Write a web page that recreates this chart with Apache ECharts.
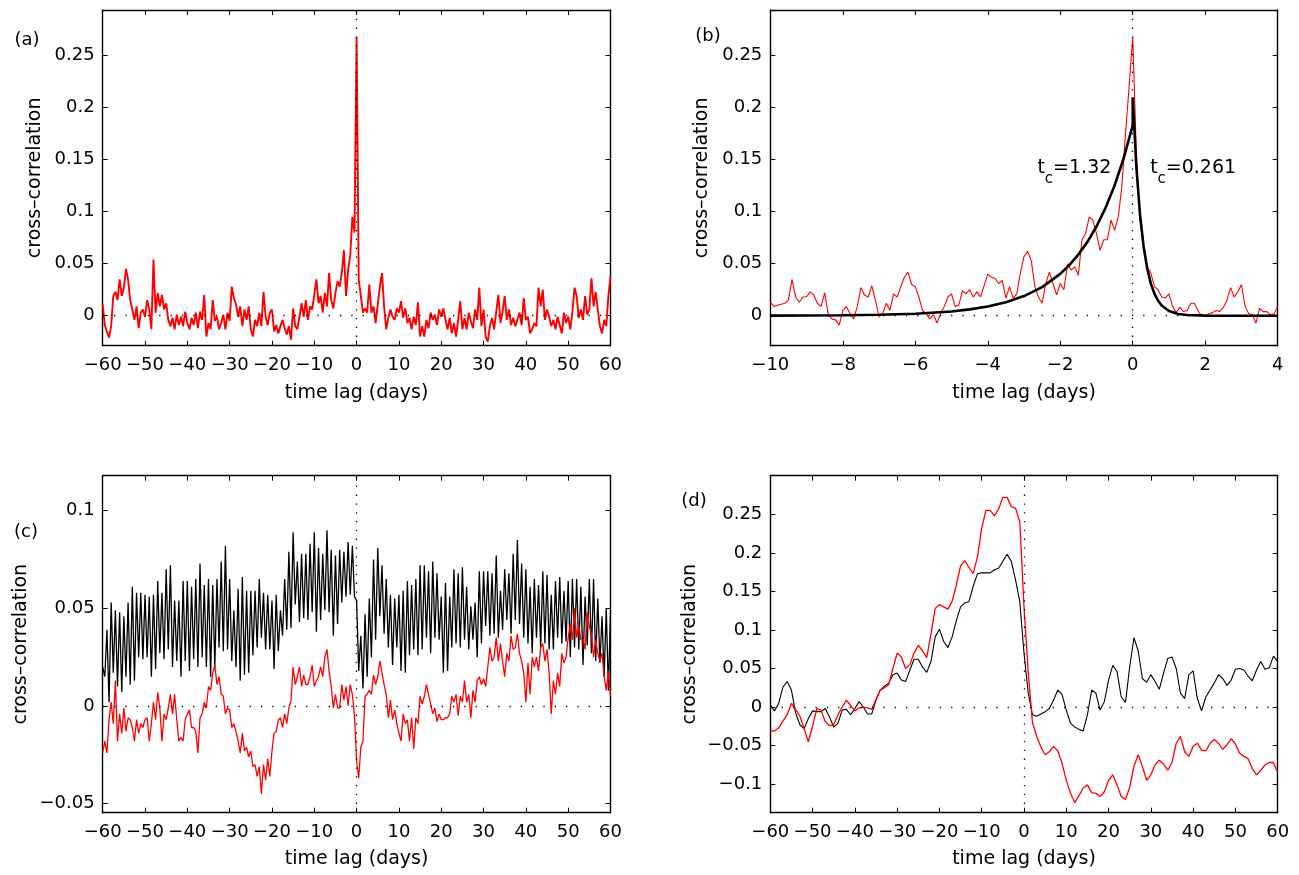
<!DOCTYPE html>
<html>
<head>
<meta charset="utf-8">
<title>cross-correlation vs time lag</title>
<script src="https://cdn.jsdelivr.net/npm/echarts@6.0.0/dist/echarts.min.js"></script>
<style>
  html, body { margin: 0; padding: 0; background: #fff; }
  #chart { width: 1299px; height: 875px; }
</style>
</head>
<body>
<div id="chart"></div>
<script>
// sample grids (days)
function lags(from, to, step) {
  const out = [];
  const n = Math.round((to - from) / step);
  for (let i = 0; i <= n; i++) out.push(Math.round((from + i * step) * 100) / 100);
  return out;
}
const lagA = lags(-60, 60, 0.5);
const lagB = lags(-10, 4, 0.1);
const lagC = lags(-60, 60, 0.5);
const lagD = lags(-60, 60, 1);

// (a) red cross-correlation, -60..60 every 0.5 day
const ccA = [
   0.011,-0.009,-0.015,-0.021,-0.010, 0.019, 0.023, 0.015, 0.035, 0.019,
   0.027, 0.045, 0.035, 0.015, 0.006,-0.004, 0.009,-0.012, 0.003, 0.006,
  -0.001, 0.015, 0.006,-0.013, 0.054, 0.003, 0.022, 0.009, 0.020, 0.006,
   0.012,-0.004,-0.010,-0.002,-0.013, 0.001,-0.009,-0.001,-0.010, 0.004,
  -0.007,-0.013,-0.002,-0.009, 0.003,-0.012, 0.004,-0.004, 0.020,-0.020,
  -0.007,-0.013, 0.015,-0.005,-0.001,-0.013,-0.007, 0.001,-0.013, 0.003,
  -0.005, 0.028, 0.017, 0.011,-0.001, 0.009,-0.010, 0.006,-0.004, 0.009,
  -0.013,-0.020,-0.004,-0.010, 0.003,-0.010, 0.023,-0.001,-0.009, 0.003,
   0.006,-0.015,-0.009,-0.017,-0.010,-0.004,-0.012,-0.018,-0.010,-0.023,
   0.007,-0.010,-0.013,-0.001, 0.012,-0.001, 0.015,-0.004, 0.009, 0.006,
   0.020, 0.035, 0.012, 0.019, 0.003, 0.022, 0.009, 0.041, 0.015, 0.007,
   0.022, 0.033, 0.028, 0.041, 0.063, 0.019, 0.044, 0.058, 0.095, 0.080,
   0.268, 0.035, 0.019, 0.003, 0.007, 0.003, 0.030, 0.003, 0.009,-0.007,
   0.011, 0.028, 0.041, 0.009,-0.013,-0.002, 0.006,-0.001,-0.004, 0.007,
   0.003, 0.014,-0.002, 0.007,-0.007,-0.002,-0.013,-0.001,-0.009, 0.013,
  -0.020,-0.010,-0.020,-0.004,-0.012, 0.003,-0.004, 0.001,-0.009, 0.006,
  -0.001, 0.007,-0.004,-0.013,-0.002,-0.017,-0.007,-0.020,-0.004, 0.014,
  -0.013,-0.002,-0.013, 0.003,-0.005,-0.012, 0.006,-0.004, 0.027,-0.010,
   0.006,-0.020,-0.025,-0.010,-0.002,-0.013, 0.004, 0.020,-0.007, 0.004,
   0.019,-0.004, 0.006,-0.009,-0.002,-0.010,-0.004, 0.003,-0.009, 0.017,
  -0.004,-0.001,-0.017,-0.013,-0.007,-0.010, 0.027, 0.009, 0.025,-0.004,
   0.006,-0.001,-0.010,-0.004,-0.013,-0.001,-0.009,-0.017, 0.003,-0.007,
  -0.001,-0.013, 0.004, 0.027, 0.019,-0.002, 0.006,-0.004, 0.019, 0.001,
   0.006, 0.036, 0.009, 0.023, 0.006,-0.010,-0.017,-0.004,-0.010, 0.019,
   0.038
];

// (b) red cross-correlation, -10..4 every 0.1 day
const ccB = [
   0.013, 0.009, 0.010, 0.011, 0.012, 0.015, 0.035, 0.018, 0.013, 0.018,
   0.018, 0.023, 0.020, 0.012, 0.009, 0.022, 0.001,-0.003,-0.004,-0.009,
   0.005, 0.009, 0.002,-0.003, 0.009, 0.027, 0.020, 0.018, 0.029, 0.015,
  -0.001, 0.002, 0.012, 0.005, 0.021, 0.018, 0.028, 0.037, 0.042, 0.030,
   0.028, 0.018, 0.005, 0.002,-0.003, 0.001,-0.007, 0.002, 0.009, 0.018,
   0.021, 0.009, 0.010, 0.024, 0.021, 0.025, 0.018, 0.023, 0.018, 0.029,
   0.040, 0.037, 0.036, 0.031, 0.034, 0.017, 0.028, 0.017, 0.021, 0.041,
   0.057, 0.062, 0.053, 0.028, 0.018, 0.012, 0.031, 0.042, 0.031, 0.020,
   0.031, 0.025, 0.050, 0.044, 0.047, 0.039, 0.073, 0.079, 0.095, 0.092,
   0.079, 0.063, 0.073, 0.073, 0.092, 0.082, 0.095, 0.124, 0.175, 0.220,
   0.268, 0.156, 0.092, 0.066, 0.047, 0.041, 0.028, 0.025, 0.018, 0.017,
   0.021, 0.009, 0.003, 0.008, 0.004, 0.005, 0.012, 0.012, 0.005, 0.000,
   0.000, 0.002, 0.003, 0.005, 0.004, 0.008, 0.015, 0.027, 0.018, 0.023,
   0.030, 0.009, 0.002, 0.001,-0.007, 0.007, 0.004, 0.004, 0.001, 0.002,
   0.009
];

// (b) black exponential fit (t_c = 1.32 left, 0.261 right)
const fitLagB = [-10, -9, -8, -7, -6, -5, -4.5, -4, -3.5, -3,
  -2.5, -2, -1.75, -1.5, -1.25, -1, -0.75, -0.5, -0.25, 0,
  0, 0.1, 0.2, 0.3, 0.4, 0.5, 0.6, 0.7, 0.8, 1.0,
  1.25, 1.5, 2, 3, 4];
const fitB = [0.0001, 0.0002, 0.0004, 0.0009, 0.0019, 0.0041, 0.0061, 0.0088, 0.0129, 0.0189,
  0.0275, 0.0402, 0.0486, 0.0588, 0.0710, 0.0858, 0.1037, 0.1253, 0.1514, 0.183,
  0.210, 0.1432, 0.0976, 0.0666, 0.0454, 0.0309, 0.0211, 0.0144, 0.0098, 0.0046,
  0.0017, 0.0007, 0.0001, 0, 0];

// (c) black and red, -60..60 every 0.5 day
const blackC = [
   0.020, 0.015, 0.039, 0.002, 0.053, 0.017, 0.049, 0.010, 0.048, 0.007,
   0.046, 0.015, 0.053, 0.011, 0.061, 0.013, 0.058, 0.025, 0.058, 0.024,
   0.057, 0.025, 0.056, 0.015, 0.057, 0.019, 0.064, 0.027, 0.058, 0.024,
   0.070, 0.029, 0.072, 0.020, 0.054, 0.023, 0.054, 0.015, 0.064, 0.023,
   0.064, 0.018, 0.061, 0.024, 0.065, 0.020, 0.073, 0.025, 0.062, 0.020,
   0.065, 0.015, 0.062, 0.020, 0.065, 0.030, 0.074, 0.028, 0.082, 0.029,
   0.065, 0.023, 0.049, 0.020, 0.060, 0.013, 0.066, 0.016, 0.059, 0.017,
   0.059, 0.026, 0.059, 0.030, 0.065, 0.035, 0.058, 0.029, 0.057, 0.029,
   0.054, 0.019, 0.057, 0.028, 0.049, 0.036, 0.065, 0.039, 0.079, 0.040,
   0.089, 0.052, 0.074, 0.043, 0.078, 0.045, 0.078, 0.044, 0.083, 0.048,
   0.089, 0.038, 0.081, 0.044, 0.078, 0.049, 0.090, 0.048, 0.080, 0.036,
   0.077, 0.042, 0.080, 0.053, 0.079, 0.056, 0.084, 0.057, 0.082, 0.056,
   0.054, 0.018, 0.036, 0.009, 0.047, 0.015, 0.055, 0.025, 0.075, 0.034,
   0.081, 0.046, 0.072, 0.037, 0.065, 0.030, 0.057, 0.021, 0.055, 0.030,
   0.057, 0.018, 0.059, 0.017, 0.064, 0.026, 0.062, 0.029, 0.065, 0.026,
   0.072, 0.029, 0.072, 0.035, 0.069, 0.027, 0.074, 0.035, 0.068, 0.034,
   0.056, 0.017, 0.063, 0.018, 0.056, 0.030, 0.070, 0.032, 0.068, 0.030,
   0.071, 0.034, 0.061, 0.029, 0.051, 0.034, 0.053, 0.025, 0.069, 0.032,
   0.069, 0.041, 0.069, 0.036, 0.068, 0.037, 0.077, 0.035, 0.059, 0.039,
   0.070, 0.044, 0.068, 0.037, 0.078, 0.044, 0.085, 0.042, 0.073, 0.035,
   0.070, 0.032, 0.061, 0.027, 0.065, 0.035, 0.062, 0.030, 0.069, 0.032,
   0.067, 0.029, 0.057, 0.029, 0.064, 0.035, 0.066, 0.032, 0.059, 0.033,
   0.064, 0.025, 0.065, 0.030, 0.065, 0.029, 0.061, 0.021, 0.056, 0.031,
   0.065, 0.027, 0.065, 0.023, 0.055, 0.022, 0.046, 0.015, 0.050, 0.008,
   0.048
];
const redC = [
  -0.024,-0.018,-0.024,-0.007, 0.002,-0.009, 0.013,-0.018,-0.004,-0.014,
  -0.001,-0.013,-0.006,-0.007,-0.011,-0.018,-0.007,-0.014,-0.009,-0.011,
  -0.007,-0.006,-0.018,-0.009, 0.002,-0.007, 0.007,-0.001,-0.018,-0.004,
  -0.007,-0.001, 0.006,-0.004, 0.006,-0.007,-0.018,-0.016,-0.018,-0.007,
  -0.004,-0.002,-0.011,-0.011,-0.013,-0.024,-0.006,-0.004, 0.002,-0.001,
   0.010, 0.008, 0.017, 0.021, 0.011, 0.015, 0.006, 0.005,-0.004,-0.001,
  -0.002,-0.011,-0.009,-0.013,-0.018,-0.024,-0.014,-0.023,-0.021,-0.026,
  -0.023,-0.031,-0.030,-0.036,-0.031,-0.045,-0.030,-0.038,-0.027,-0.036,
  -0.023,-0.014,-0.013,-0.007,-0.006,-0.011,-0.004,-0.009,-0.001, 0.003,
   0.020, 0.011, 0.015, 0.020, 0.010, 0.016, 0.011, 0.011, 0.015, 0.021,
   0.010, 0.013, 0.015, 0.020, 0.015, 0.025, 0.029, 0.018, 0.010,-0.001,
   0.006,-0.001,-0.001, 0.011, 0.003, 0.010, 0.000, 0.011, 0.006,-0.005,
  -0.028,-0.037,-0.021,-0.018, 0.005, 0.006, 0.008, 0.006, 0.016, 0.011,
   0.015, 0.023, 0.017, 0.011, 0.006,-0.006, 0.003,-0.007,-0.002,-0.009,
  -0.014,-0.018,-0.004,-0.009,-0.007,-0.018,-0.006,-0.022,-0.006,-0.009,
   0.005, 0.001, 0.005, 0.011, 0.006, 0.001,-0.004,-0.001,-0.008,-0.004,
  -0.007,-0.007,-0.006,-0.006,-0.004, 0.005, 0.002, 0.006,-0.005, 0.005,
   0.002, 0.013, 0.002, 0.006,-0.006, 0.008, 0.002, 0.013, 0.015, 0.011,
   0.014, 0.010, 0.020, 0.030, 0.023, 0.025, 0.035, 0.023, 0.032, 0.023,
   0.015, 0.027, 0.023, 0.036, 0.029, 0.030, 0.037, 0.027, 0.023, 0.017,
   0.002, 0.022, 0.006, 0.025, 0.020, 0.025, 0.018, 0.030, 0.032, 0.023,
   0.029, 0.017,-0.004, 0.013, 0.006, 0.017, 0.010, 0.027, 0.022, 0.025,
   0.035, 0.042, 0.034, 0.050, 0.035, 0.041, 0.034, 0.034, 0.029, 0.048,
   0.041, 0.037, 0.025, 0.034, 0.027, 0.023, 0.027, 0.015, 0.008, 0.018,
   0.005
];

// (d) black and red, -60..60 every day
const blackD = [
   0.003,-0.005, 0.005, 0.026, 0.033, 0.022,-0.008,-0.023,-0.028,-0.015,
  -0.005,-0.006,-0.006,-0.002,-0.013,-0.026,-0.021,-0.004,-0.003,-0.010,
  -0.002, 0.007, 0.000,-0.009,-0.009, 0.009, 0.022, 0.027, 0.031, 0.042,
   0.044, 0.035, 0.033, 0.048, 0.062, 0.062, 0.052, 0.045, 0.059, 0.091,
   0.101, 0.085, 0.077, 0.091, 0.112, 0.130, 0.135, 0.137, 0.157, 0.173,
   0.174, 0.174, 0.174, 0.178, 0.180, 0.189, 0.198, 0.189, 0.165, 0.137,
   0.070,
   0.018,-0.010,-0.012,-0.009,-0.006,-0.002, 0.009, 0.022, 0.016,-0.004,
  -0.021,-0.026,-0.029,-0.031,-0.010, 0.022, 0.018,-0.004, 0.007, 0.035,
   0.054, 0.046, 0.013, 0.006, 0.052, 0.090, 0.073, 0.037, 0.032, 0.042,
   0.033, 0.023, 0.044, 0.063, 0.065, 0.050, 0.018, 0.011, 0.042, 0.047,
   0.011,-0.005, 0.013, 0.022, 0.031, 0.042, 0.037, 0.028, 0.035, 0.049,
   0.050, 0.048, 0.040, 0.034, 0.048, 0.059, 0.049, 0.051, 0.066, 0.059
];
const redD = [
  -0.031,-0.031,-0.027,-0.018,-0.010, 0.005,-0.003,-0.012,-0.028,-0.045,
  -0.025,-0.002,-0.004,-0.019,-0.024,-0.023,-0.010, 0.000, 0.009, 0.002,
  -0.005,-0.001, 0.000,-0.001,-0.003, 0.010, 0.022, 0.025, 0.029, 0.050,
   0.070, 0.065, 0.050, 0.055, 0.070, 0.080, 0.073, 0.064, 0.095, 0.128,
   0.133, 0.130, 0.127, 0.137, 0.158, 0.183, 0.190, 0.181, 0.173, 0.195,
   0.232, 0.255, 0.255, 0.248, 0.257, 0.272, 0.272, 0.260, 0.258, 0.240,
   0.130,
   0.045,-0.020,-0.038,-0.052,-0.062,-0.058,-0.051,-0.057,-0.073,-0.095,
  -0.112,-0.124,-0.115,-0.105,-0.101,-0.111,-0.112,-0.116,-0.110,-0.095,
  -0.088,-0.101,-0.116,-0.120,-0.104,-0.077,-0.062,-0.077,-0.095,-0.088,
  -0.075,-0.069,-0.074,-0.082,-0.072,-0.047,-0.038,-0.058,-0.064,-0.051,
  -0.047,-0.056,-0.057,-0.047,-0.042,-0.047,-0.055,-0.049,-0.041,-0.048,
  -0.060,-0.064,-0.067,-0.080,-0.088,-0.082,-0.075,-0.072,-0.072,-0.085
];

// tick values
const yTicksAB = [0, 0.05, 0.1, 0.15, 0.2, 0.25];
const yTicksC = [-0.05, 0, 0.05, 0.1];
const yTicksD = [-0.1, -0.05, 0, 0.05, 0.1, 0.15, 0.2, 0.25];

[[lagA, ccA, 'ccA'], [lagB, ccB, 'ccB'], [fitLagB, fitB, 'fitB'], [lagC, blackC, 'blackC'],
 [lagC, redC, 'redC'], [lagD, blackD, 'blackD'], [lagD, redD, 'redD']].forEach(function (p) {
  if (p[0].length !== p[1].length) throw new Error(p[2] + ' ' + p[1].length + ' vs ' + p[0].length);
});

const FONT = 'DejaVu Sans';
const RED = '#ff0000';
const tickTxt = { color: '#000', fontFamily: FONT, fontSize: 18 };
const titleTxt = { color: '#000', fontFamily: FONT, fontSize: 19 };
const minus = s => String(s).replace('-', '\u2212');
const pairs = (xs, ys) => xs.map((x, i) => [x, ys[i]]);

function xAxes(grid, min, max, interval, nameGap) {
  const base = {
    type: 'value', gridIndex: grid, min: min, max: max, interval: interval,
    splitLine: { show: false },
    axisLine: { onZero: false, lineStyle: { color: '#000', width: 1.4 } },
    axisTick: { inside: true, length: 5, lineStyle: { color: '#000', width: 1 } }
  };
  return [
    Object.assign({}, base, {
      position: 'bottom',
      axisLabel: Object.assign({ margin: 11, formatter: v => minus(v) }, tickTxt),
      name: 'time lag (days)', nameLocation: 'middle', nameGap: nameGap, nameTextStyle: titleTxt
    }),
    Object.assign({}, base, { position: 'top', axisLabel: { show: false } })
  ];
}

function yAxes(grid, min, max, ticks, nameGap) {
  const base = {
    type: 'value', gridIndex: grid, min: min, max: max,
    splitLine: { show: false },
    axisLine: { onZero: false, lineStyle: { color: '#000', width: 1.4 } },
    axisTick: { inside: true, length: 5, customValues: ticks, lineStyle: { color: '#000', width: 1 } }
  };
  return [
    Object.assign({}, base, {
      position: 'left',
      axisLabel: Object.assign({ margin: 8, customValues: ticks,
        formatter: v => minus(Math.round(v * 1000) / 1000) }, tickTxt),
      name: 'cross\u2013correlation', nameLocation: 'middle', nameGap: nameGap, nameTextStyle: titleTxt
    }),
    Object.assign({}, base, { position: 'right', axisLabel: { show: false } })
  ];
}

function zeroLines() {
  return {
    silent: true, symbol: ['none', 'none'], label: { show: false }, animation: false,
    data: [
      { yAxis: 0, lineStyle: { color: '#000', width: 1.3, type: [1.3, 10] } },
      { xAxis: 0, lineStyle: { color: '#000', width: 1.3, type: [1.3, 7.5] } }
    ]
  };
}

function line(grid, data, color, width, extra) {
  return Object.assign({
    type: 'line', xAxisIndex: grid * 2, yAxisIndex: grid * 2,
    data: data, showSymbol: false, symbol: 'none', animation: false,
    lineStyle: { color: color, width: width }, emphasis: { disabled: true }
  }, extra || {});
}

function note(value, at) {
  const plain = { color: '#000', fontFamily: FONT, textBorderWidth: 0, textShadowBlur: 0, opacity: 1 };
  return {
    type: 'scatter', xAxisIndex: 2, yAxisIndex: 2, symbolSize: 0, silent: true, animation: false,
    itemStyle: { color: '#000', opacity: 1 },
    data: [at],
    label: Object.assign({
      show: true, position: [0, 0], align: 'left', verticalAlign: 'middle',
      formatter: '{a|t}{b|c}{a|=' + value + '}',
      rich: {
        a: Object.assign({ fontSize: 19 }, plain),
        b: Object.assign({ fontSize: 15, padding: [21, 0, 0, 0] }, plain)
      }
    }, plain)
  };
}

function panelLabel(text, x, y) {
  return { type: 'text', x: x, y: y, silent: true,
    style: { text: text, fill: '#000', fontFamily: FONT, fontSize: 18, align: 'center', verticalAlign: 'middle' } };
}

const chart = echarts.init(document.getElementById('chart'), null, { renderer: 'canvas' });
chart.setOption({
  backgroundColor: '#fff',
  animation: false,
  grid: [
    { left: 102.7, top: 10, width: 507.8, height: 335.7, outerBoundsMode: 'none' },
    { left: 770.3, top: 10, width: 507.4, height: 335.7, outerBoundsMode: 'none' },
    { left: 102.7, top: 475.7, width: 507.8, height: 337, outerBoundsMode: 'none' },
    { left: 770.3, top: 475.7, width: 507.4, height: 337, outerBoundsMode: 'none' }
  ],
  xAxis: [].concat(
    xAxes(0, -60, 60, 10, 38),
    xAxes(1, -10, 4, 2, 38),
    xAxes(2, -60, 60, 10, 37),
    xAxes(3, -60, 60, 10, 37)
  ),
  yAxis: [].concat(
    yAxes(0, -0.0288, 0.2939, yTicksAB, 58),
    yAxes(1, -0.0288, 0.2939, yTicksAB, 59),
    yAxes(2, -0.0546, 0.1179, yTicksC, 72),
    yAxes(3, -0.1371, 0.3001, yTicksD, 71)
  ),
  series: [
    line(0, pairs(lagA, ccA), RED, 1.9, { markLine: zeroLines() }),
    line(1, pairs(lagB, ccB), RED, 1.1, { markLine: zeroLines() }),
    line(1, pairs(fitLagB, fitB), '#000', 2.6),
    note('1.32', [-2.63, 0.1417]),
    note('0.261', [0.48, 0.1417]),
    line(2, pairs(lagC, blackC), '#000', 1.3, { markLine: zeroLines() }),
    line(2, pairs(lagC, redC), RED, 1.3),
    line(3, pairs(lagD, blackD), '#000', 1.1, { markLine: zeroLines() }),
    line(3, pairs(lagD, redD), RED, 1.3)
  ],
  graphic: [
    panelLabel('(a)', 27, 40),
    panelLabel('(b)', 708, 36),
    panelLabel('(c)', 26, 532),
    panelLabel('(d)', 694, 501)
  ]
});
</script>
</body>
</html>
